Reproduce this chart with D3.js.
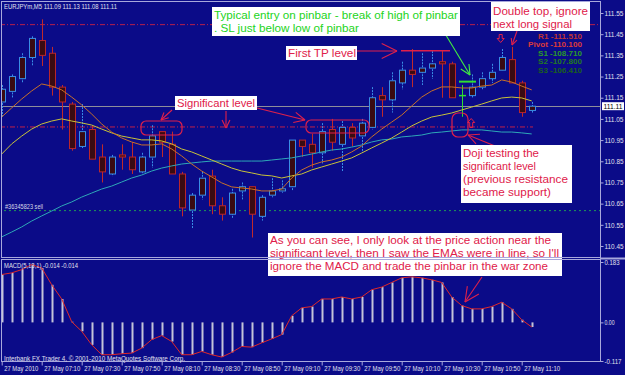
<!DOCTYPE html>
<html>
<head>
<meta charset="utf-8">
<title>EURJPYm,M5</title>
<script src="https://cdnjs.cloudflare.com/ajax/libs/d3/7.8.5/d3.min.js"></script>
<style>
  body { margin: 0; background: #0b0b88; }
  svg { display: block; }
  text { font-family: "Liberation Sans", Arial, sans-serif; }
</style>
</head>
<body>
<svg width="625" height="375"></svg>
<script>
// M5 candles, bar 0 = 06:50, bar 53 = 11:15
var opens  = [111.13,111.18,111.24,111.34,111.42,111.36,111.20,111.12,110.92,111.00,
              110.87,110.79,110.88,110.87,110.80,110.87,110.99,110.93,110.79,110.62,
              110.69,110.78,110.64,110.60,110.71,110.73,110.59,110.69,110.71,110.73,
              110.95,110.93,110.89,111.00,110.93,111.01,110.97,111.01,111.16,111.14,
              111.22,111.28,111.27,111.29,111.32,111.31,111.16,111.16,111.20,111.24,
              111.28,111.33,111.22,111.09];
var highs  = [111.21,111.26,111.36,111.44,111.52,111.39,111.21,111.13,111.12,111.02,
              110.93,110.88,110.93,110.94,110.89,111.02,110.99,110.99,110.80,110.70,
              110.80,110.81,110.68,110.72,110.75,110.73,110.69,110.77,110.76,110.95,
              110.95,110.98,111.03,111.05,111.04,111.03,111.05,111.20,111.20,111.27,
              111.32,111.38,111.36,111.37,111.37,111.32,111.21,111.26,111.27,111.31,
              111.38,111.39,111.23,111.13];
var lows   = [111.06,111.15,111.22,111.30,111.30,111.16,111.00,110.90,110.91,110.86,
              110.75,110.78,110.81,110.79,110.79,110.82,110.87,110.79,110.59,110.53,
              110.67,110.60,110.57,110.58,110.67,110.49,110.57,110.68,110.70,110.71,
              110.87,110.82,110.84,110.90,110.80,110.92,110.89,111.00,111.06,111.08,
              111.19,111.20,111.21,111.24,111.15,111.15,111.06,111.15,111.19,111.22,
              111.28,111.22,111.06,111.08];
var closes = [111.19,111.25,111.34,111.43,111.35,111.20,111.13,110.91,110.99,110.86,
              110.80,110.87,110.87,110.81,110.87,110.97,110.94,110.79,110.63,110.69,
              110.77,110.64,110.60,110.70,110.73,110.60,110.68,110.71,110.72,110.95,
              110.92,110.89,110.99,110.94,111.01,110.96,111.03,111.15,111.14,111.23,
              111.28,111.26,111.29,111.31,111.31,111.15,111.16,111.20,111.24,111.27,
              111.34,111.22,111.08,111.11];

// moving averages
var maFast = [111.059,111.102,111.144,111.182,111.215,111.205,111.187,111.153,111.116,111.073,
              111.026,110.988,110.960,110.941,110.927,110.927,110.932,110.908,110.875,110.837,
              110.804,110.776,110.748,110.729,110.724,110.719,110.710,110.710,110.719,110.771,
              110.809,110.832,110.847,110.856,110.870,110.894,110.922,110.965,111.002,111.035,
              111.068,111.111,111.153,111.182,111.201,111.201,111.196,111.196,111.205,111.210,
              111.234,111.224,111.205,111.187];
var maMid  = [110.884,110.932,110.969,111.002,111.026,111.040,111.050,111.040,111.031,111.021,
              111.002,110.984,110.969,110.960,110.951,110.951,110.946,110.932,110.908,110.894,
              110.875,110.856,110.837,110.818,110.804,110.795,110.785,110.781,110.771,110.781,
              110.790,110.809,110.823,110.837,110.851,110.866,110.889,110.913,110.936,110.960,
              110.988,111.017,111.040,111.059,111.068,111.078,111.092,111.106,111.120,111.135,
              111.149,111.153,111.149,111.135];
var maSlow = [110.493,110.516,110.540,110.568,110.592,110.615,110.639,110.658,110.681,110.700,
              110.719,110.733,110.752,110.771,110.785,110.804,110.818,110.828,110.837,110.842,
              110.847,110.851,110.851,110.851,110.851,110.851,110.851,110.856,110.861,110.866,
              110.875,110.884,110.894,110.903,110.908,110.917,110.927,110.941,110.951,110.955,
              110.965,110.969,110.974,110.984,110.988,110.993,110.998,110.998,110.998,110.993,
              110.988,110.988,110.984,110.979];

// MACD(5,13,1): main and signal are the same series
var macd = [0.145,0.150,0.160,0.175,0.165,0.114,0.071,0.002,-0.027,-0.068,
            -0.098,-0.098,-0.095,-0.093,-0.078,-0.052,-0.040,-0.058,-0.098,-0.098,
            -0.088,-0.098,-0.105,-0.091,-0.073,-0.075,-0.062,-0.050,-0.037,0.020,
            0.044,0.048,0.071,0.071,0.077,0.071,0.077,0.099,0.107,0.121,
            0.135,0.138,0.135,0.129,0.121,0.077,0.051,0.041,0.041,0.048,
            0.061,0.041,0.008,-0.014];

var priceTicks = [111.55,111.45,111.35,111.25,111.15,111.05,110.95,110.85,110.75,110.65,110.55,110.45];
var macdTicks = [0.183, 0, -0.117];
var macdTickLabels = ["0.183", "0.00", "-0.117"];
var timeTickBars = [0,4,8,12,16,20,24,28,32,36,40,44,48,52];
var timeTickLabels = ["27 May 2010","27 May 07:10","27 May 07:30","27 May 07:50","27 May 08:10",
                      "27 May 08:30","27 May 08:50","27 May 09:10","27 May 09:30","27 May 09:50",
                      "27 May 10:10","27 May 10:30","27 May 10:50","27 May 11:10"];

var bid = 111.11;
var upperLevel = 111.495;
var sigLevel = 111.012;
var sellLevel = 110.617;
var tpLevel = 111.372;
var entryLevel = 111.226;
var pivotNames = ["R1 -111.510","Pivot -110.100","S1 -108.710","S2 -107.800","S3 -106.410"];
var pivotColors = ["#c03434","#dc3a3a","#2a9a2a","#227a22","#1b601b"];

var svg = d3.select("svg");
var x = d3.scaleLinear().domain([0, 53]).range([1.7, 531.7]);
var y = d3.scaleLinear().domain([110.45, 111.55]).range([246, 13]);
var ym = d3.scaleLinear().domain([-0.117, 0.183]).range([361, 262]);

function fit(sel, w) {
    sel.attr("textLength", w).attr("lengthAdjust", "spacingAndGlyphs");
}

svg.append("rect").attr("width", 625).attr("height", 375).attr("fill", "#0b0b88");

var defs = svg.append("defs");
defs.append("clipPath").attr("id", "mainClip")
    .append("rect").attr("x", 2).attr("y", 2).attr("width", 598).attr("height", 255);
defs.append("clipPath").attr("id", "macdClip")
    .append("rect").attr("x", 2).attr("y", 260).attr("width", 598).attr("height", 101);

var main = svg.append("g").attr("clip-path", "url(#mainClip)");

// horizontal levels
main.append("line").attr("x1", 0).attr("x2", 600).attr("y1", y(upperLevel)).attr("y2", y(upperLevel))
    .attr("stroke", "#b8204c").attr("stroke-dasharray", "5,2,1,2");
main.append("line").attr("x1", 0).attr("x2", 533).attr("y1", y(sigLevel)).attr("y2", y(sigLevel))
    .attr("stroke", "#c02048").attr("stroke-dasharray", "5,2,1,2");
main.append("line").attr("x1", 0).attr("x2", 600).attr("y1", Math.round(y(bid)) + 0.5).attr("y2", Math.round(y(bid)) + 0.5)
    .attr("stroke", "#8e8e9a");
main.append("line").attr("x1", 4).attr("x2", 600).attr("y1", y(sellLevel)).attr("y2", y(sellLevel))
    .attr("stroke", "#1f9a55").attr("stroke-dasharray", "2,3");
main.append("text").attr("x", 5).attr("y", 208.5).attr("font-size", 6.5).attr("fill", "#d8d8e8")
    .text("#36345823 sell").call(fit, 38);

// pivot labels (R1 sits just under the "Double top" note)
pivotNames.forEach(function(t, k) {
    main.append("text").attr("x", k == 1 ? 528 : 538).attr("y", 38.5 + k * 8.6)
        .attr("font-size", 7.5).attr("font-weight", "bold").attr("fill", pivotColors[k])
        .text(t).call(fit, k == 1 ? 54 : 44);
});

// candles
var idx = d3.range(opens.length);
var bull = function(i) { return closes[i] > opens[i]; };
var doji = function(i) { return closes[i] == opens[i]; };

main.selectAll(".wick").data(idx).enter().append("line")
    .attr("x1", function(i) { return Math.round(x(i)) + 0.5; })
    .attr("x2", function(i) { return Math.round(x(i)) + 0.5; })
    .attr("y1", function(i) { return y(highs[i]); })
    .attr("y2", function(i) { return y(lows[i]); })
    .attr("stroke", function(i) { return doji(i) ? "#30e030" : bull(i) ? "#3a8ee6" : "#c02a2a"; })
    .attr("stroke-dasharray", function(i) { return bull(i) ? "2,1" : null; });

main.selectAll(".body").data(idx.filter(function(i) { return !doji(i); })).enter().append("rect")
    .attr("x", function(i) { return Math.round(x(i)) - 2.5; })
    .attr("width", 6)
    .attr("y", function(i) { return y(Math.max(opens[i], closes[i])); })
    .attr("height", function(i) { return Math.max(1, Math.abs(y(opens[i]) - y(closes[i]))); })
    .attr("fill", "#3a0b12")
    .attr("stroke", function(i) { return bull(i) ? "#3a8ee6" : "#b8262c"; });

main.selectAll(".dojibar").data(idx.filter(doji)).enter().append("line")
    .attr("x1", function(i) { return Math.round(x(i)) - 3; })
    .attr("x2", function(i) { return Math.round(x(i)) + 4; })
    .attr("y1", function(i) { return y(opens[i]); })
    .attr("y2", function(i) { return y(opens[i]); })
    .attr("stroke", "#30e030").attr("stroke-width", 1.5);

// moving averages
var maLine = d3.line().x(function(d, i) { return x(i); }).y(function(d) { return y(d); });
[[maSlow, "#2ea8b8"], [maMid, "#c8c23a"], [maFast, "#c8702a"]].forEach(function(m) {
    main.append("path").attr("d", maLine(m[0])).attr("fill", "none").attr("stroke", m[1]);
});

// TP and entry lines
main.append("line").attr("x1", 401).attr("x2", 450).attr("y1", y(tpLevel)).attr("y2", y(tpLevel))
    .attr("stroke", "#e0204a").attr("stroke-width", 1.5);
main.append("line").attr("x1", 459).attr("x2", 476).attr("y1", y(entryLevel)).attr("y2", y(entryLevel))
    .attr("stroke", "#30e030").attr("stroke-width", 2);

// rounded boxes around the level tests
var red = "#e0204a";
[[141, 121, 41, 14, 5], [306, 120, 63, 13, 5], [452, 113, 16, 24, 6]].forEach(function(b) {
    main.append("rect").attr("x", b[0]).attr("y", b[1]).attr("width", b[2]).attr("height", b[3])
        .attr("rx", b[4]).attr("fill", "none").attr("stroke", red).attr("stroke-width", 1.2);
});

// hollow arrow markers
function hollowArrow(cx, top, down) {
    var s = down ? -1 : 1, b = top + (down ? 8 : 0), t = top + (down ? 0 : 8);
    var p = d3.path();
    p.moveTo(cx, down ? b : top);
    p.lineTo(cx + 3.5, (down ? b : top) + 4 * s);
    p.lineTo(cx + 1.5, (down ? b : top) + 4 * s);
    p.lineTo(cx + 1.5, down ? top : t + 1);
    p.lineTo(cx - 1.5, down ? top : t + 1);
    p.lineTo(cx - 1.5, (down ? b : top) + 4 * s);
    p.lineTo(cx - 3.5, (down ? b : top) + 4 * s);
    p.closePath();
    main.append("path").attr("d", p.toString()).attr("fill", "none").attr("stroke", red);
}
hollowArrow(x(47) - 0.5, 118.5, false);
hollowArrow(x(50) - 1, 34.5, true);

// annotation arrows
function arrow(x1, y1, x2, y2, color, len) {
    var g = svg.append("g").attr("stroke", color).attr("stroke-width", 1.1);
    g.append("line").attr("x1", x1).attr("y1", y1).attr("x2", x2).attr("y2", y2);
    var a = Math.atan2(y2 - y1, x2 - x1);
    [-0.45, 0.45].forEach(function(d) {
        g.append("line").attr("x1", x2).attr("y1", y2)
            .attr("x2", x2 - len * Math.cos(a + d)).attr("y2", y2 - len * Math.sin(a + d));
    });
}
arrow(172, 110, 161, 120, red, 8);
arrow(226, 111, 226, 128, red, 9);
arrow(257, 108, 305, 120, red, 12);
arrow(357, 51, 397, 51, red, 17);
arrow(517, 31, 512, 45, red, 7);
arrow(495, 146, 468, 135, red, 12);
arrow(482, 277, 465, 302, red, 16);
arrow(438, 22, 470, 75, "#40f040", 11);

// text notes
function note(bx, by, bw, bh, color, lines) {
    svg.append("rect").attr("x", bx).attr("y", by).attr("width", bw).attr("height", bh).attr("fill", "#ffffff");
    lines.forEach(function(l) {
        svg.append("text").attr("x", bx + 2).attr("y", l[1]).attr("font-size", 11.5)
            .attr("fill", color).text(l[0]).call(fit, l[2]);
    });
}
note(212, 7, 248, 29, "#22d422", [["Typical entry on pinbar - break of high of pinbar", 18.5, 244],
                                   [". SL just below low of pinbar", 31.5, 145]]);
note(286, 46, 71, 14, red, [["First TP level", 56.5, 68]]);
note(175, 96, 82, 14, red, [["Significant level", 106.5, 78]]);
note(491, 2, 99, 29, red, [["Double top, ignore", 14.5, 95], ["next long signal", 27.5, 79]]);
note(461, 145, 111, 58, red, [["Doji testing the", 157, 76], ["significant level", 170, 73],
                               ["(previous resistance", 183, 105], ["became support)", 196, 88]]);
note(268, 233, 294, 43, red, [["As you can see, I only look at the price action near the", 244, 281],
                               ["significant level, then I saw the EMAs were in line, so I'll", 257, 289],
                               ["ignore the MACD and trade the pinbar in the war zone", 270, 278]]);

// MACD panel
var sub = svg.append("g").attr("clip-path", "url(#macdClip)");
sub.selectAll(".hist").data(idx).enter().append("rect")
    .attr("x", function(i) { return Math.round(x(i)) - 0.5; })
    .attr("width", 2)
    .attr("y", function(i) { return Math.min(ym(0), ym(macd[i])); })
    .attr("height", function(i) { return Math.abs(ym(macd[i]) - ym(0)); })
    .attr("fill", "#c4c4d8");
sub.append("path").attr("d", d3.line().x(function(d, i) { return x(i); }).y(function(d) { return ym(d); })(macd))
    .attr("fill", "none").attr("stroke", "#e02828");

// frames
var frame = "#a8a8dc";
svg.append("rect").attr("x", 1.5).attr("y", 1.5).attr("width", 599).attr("height", 256)
    .attr("fill", "none").attr("stroke", frame);
svg.append("rect").attr("x", 1.5).attr("y", 259.5).attr("width", 599).attr("height", 102)
    .attr("fill", "none").attr("stroke", frame);
svg.append("line").attr("x1", 600).attr("x2", 625).attr("y1", 258.5).attr("y2", 258.5)
    .attr("stroke", frame).attr("stroke-width", 2);

// labels
var txt = "#e0e0ee";
svg.append("text").attr("x", 4).attr("y", 9).attr("font-size", 7).attr("fill", txt)
    .text("EURJPYm,M5  111.09 111.13 111.08 111.11").call(fit, 113);
svg.append("text").attr("x", 4).attr("y", 268).attr("font-size", 7).attr("fill", txt)
    .text("MACD(5,13,1) -0.014 -0.014").call(fit, 74);
svg.append("text").attr("x", 4).attr("y", 360.5).attr("font-size", 7).attr("fill", txt)
    .text("Interbank FX Trader 4, \u00a9 2001-2010 MetaQuotes Software Corp.").call(fit, 181);

// axes
function styleAxis(g) {
    g.select(".domain").remove();
    g.selectAll("line").attr("stroke", frame);
    g.selectAll("text").attr("fill", txt).attr("font-size", 7)
        .attr("font-family", "'Liberation Sans', Arial, sans-serif");
}
svg.append("g").attr("transform", "translate(600.5,0)")
    .call(d3.axisRight(y).tickValues(priceTicks).tickSize(3).tickPadding(1).tickFormat(d3.format(".2f")))
    .call(styleAxis)
    .selectAll("text").call(fit, 19);
svg.append("g").attr("transform", "translate(600.5,0)")
    .call(d3.axisRight(ym).tickValues(macdTicks).tickSize(3).tickPadding(1)
        .tickFormat(function(d, k) { return macdTickLabels[k]; }))
    .call(styleAxis)
    .selectAll("text").each(function(d, k) {
        d3.select(this).call(fit, [15, 10, 17][k]);
    });
svg.append("g").attr("transform", "translate(0,361.5)")
    .call(d3.axisBottom(x).tickValues(timeTickBars).tickSize(4).tickPadding(1)
        .tickFormat(function(d, k) { return timeTickLabels[k]; }))
    .call(styleAxis)
    .selectAll("text").attr("text-anchor", "start").attr("x", 2)
    .each(function(d, k) { d3.select(this).call(fit, k == 0 ? 34 : 36); });

// bid label on the price axis
svg.append("rect").attr("x", 602).attr("y", y(bid) - 4).attr("width", 22).attr("height", 8).attr("fill", "#ffffff");
svg.append("text").attr("x", 603.5).attr("y", y(bid) + 2.5).attr("font-size", 7).attr("fill", "#000000")
    .text(d3.format(".2f")(bid)).call(fit, 19);
</script>
</body>
</html>
